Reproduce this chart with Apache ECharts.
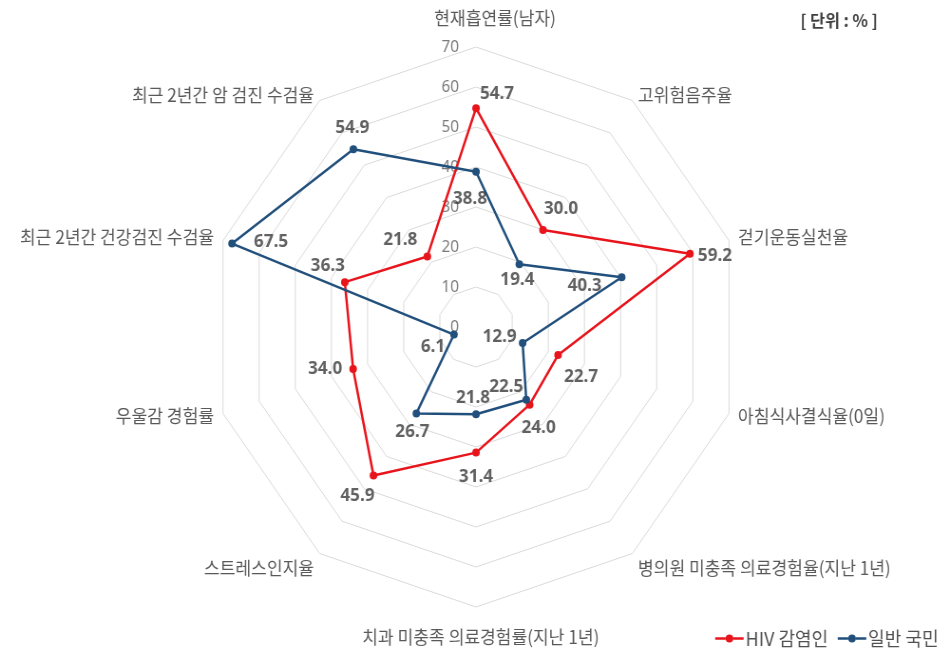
<!DOCTYPE html>
<html><head><meta charset="utf-8">
<script src="https://cdn.jsdelivr.net/npm/echarts@6/dist/echarts.min.js"></script>
<style>
html,body{margin:0;padding:0;overflow:hidden;background:#fff;width:947px;height:652px}
#c{width:997px;height:652px;transform:scaleX(0.95);transform-origin:0 0;}
</style>
</head><body><div id="c"></div>
<script>
// ---- data ----
const indicators = ['현재흡연률(남자)','고위험음주율','걷기운동실천율','아침식사결식율(0일)','병의원 미충족 의료경험율(지난 1년)','치과 미충족 의료경험률(지난 1년)','스트레스인지율','우울감 경험률','최근 2년간 건강검진 수검율','최근 2년간 암 검진 수검율'];
const hivValues = [54.7, 30.0, 59.2, 22.7, 24.0, 31.4, 45.9, 34.0, 36.3, 21.8];
const generalValues = [38.8, 19.4, 40.3, 12.9, 22.5, 21.8, 26.7, 6.1, 67.5, 54.9];
const seriesNames = ['HIV 감염인', '일반 국민'];
const axisMin = 0, axisMax = 70, axisStep = 10;
const unitLabel = '[ 단위 : % ]';

// ---- style (label offsets in px, name paddings) ----
const SX = 0.95;
const hivLabelOffsets = [[21,-14],[18,-21],[25,2],[23,22],[9,23],[0,24],[-16,20],[-28,0],[-17,-16],[-27,-17]];
const genLabelOffsets = [[-6,27],[-2,16],[-37,9],[-23,-6],[-20,-13],[-3,-16],[-4,18],[-21,12],[39,-2],[-1,-21]];
const namePads = [[0,0,10,40],[5,0,0,0],[0,0,0,0],[0,0,0,0],[13,0,0,0],[11,0,0,10],[13,0,0,0],[0,0,0,0],[0,0,0,0],[5,0,0,0]];
const RED = '#E8141C', BLUE = '#22507C';
const FONT = '"Noto Sans CJK KR", "Noto Sans", sans-serif';
const NUMFONT = '"Noto Sans", "Noto Sans CJK KR", sans-serif';
const CX = 476 / SX, CY = 327, R = 280;

// radar draws counter-clockwise; reorder so that indicators run clockwise
const order = [0].concat(indicators.map((_, i) => i).slice(1).reverse());
const radarIndicators = order.map(i => ({ name: indicators[i], min: axisMin, max: axisMax }));
const reorder = arr => order.map(i => arr[i]);

const rich = {};
namePads.forEach((p, i) => { rich['n' + i] = { padding: p, fontSize: 18, color: '#595959', fontFamily: FONT }; });

const legendIcon = 'path://M0,3.8 L11,3.8 L11,6.2 L0,6.2 Z M19,3.8 L30,3.8 L30,6.2 L19,6.2 Z M11,5 a4,4 0 1,1 8,0 a4,4 0 1,1 -8,0 Z';

function labelSeries(name, values, offsets) {
  return {
    type: 'scatter', name: name + ' label', coordinateSystem: 'polar', z: 5, silent: true,
    symbolSize: 1, itemStyle: { color: 'transparent' },
    data: values.map((v, i) => ({
      value: [v, i],
      label: { offset: [offsets[i][0] / SX, offsets[i][1]] }
    })),
    label: {
      show: true, position: 'inside',
      formatter: p => p.value[0].toFixed(1),
      fontSize: 18, fontWeight: 'bold', color: '#3a3a3a', fontFamily: NUMFONT
    }
  };
}

const chart = echarts.init(document.getElementById('c'));
chart.setOption({
  animation: false,
  textStyle: { fontFamily: FONT },
  title: { text: unitLabel, right: 68, top: 7, textStyle: { fontSize: 17, fontWeight: 'bold', color: '#404040', fontFamily: FONT } },
  legend: {
    data: seriesNames.map(n => ({ name: n, icon: legendIcon })),
    right: 4, top: 624, itemWidth: 30, itemHeight: 8, itemGap: 10,
    textStyle: { fontSize: 19, color: '#505050', fontFamily: FONT, padding: [0, 0, 0, -3] }
  },
  radar: {
    center: [CX, CY], radius: R, startAngle: 90, shape: 'polygon', splitNumber: (axisMax - axisMin) / axisStep,
    indicator: radarIndicators,
    nameGap: 10,
    axisName: {
      color: '#595959', fontSize: 18, fontFamily: FONT,
      formatter: (name) => '{n' + indicators.indexOf(name) + '|' + name + '}',
      rich: rich
    },
    axisLine: { show: false },
    axisTick: { show: false },
    axisLabel: { show: false },
    splitArea: { show: false },
    splitLine: { lineStyle: { color: '#d9d9d9', width: 1 } }
  },
  polar: { center: [CX, CY], radius: R },
  angleAxis: { type: 'category', data: indicators, boundaryGap: false, startAngle: 90, clockwise: true, show: false },
  radiusAxis: {
    min: axisMin, max: axisMax, interval: axisStep,
    axisLine: { show: false }, axisTick: { show: false }, splitLine: { show: false },
    axisLabel: { color: '#7a7a7a', fontSize: 16, margin: 18, fontFamily: NUMFONT }
  },
  series: [
    {
      type: 'radar', z: 3,
      symbol: 'circle', symbolSize: 8,
      data: [
        { name: seriesNames[0], value: reorder(hivValues), itemStyle: { color: RED }, lineStyle: { color: RED, width: 2.5 } },
        { name: seriesNames[1], value: reorder(generalValues), itemStyle: { color: BLUE }, lineStyle: { color: BLUE, width: 2.5 } }
      ]
    },
    labelSeries(seriesNames[0], hivValues, hivLabelOffsets),
    labelSeries(seriesNames[1], generalValues, genLabelOffsets)
  ]
});
</script>
</body></html>
